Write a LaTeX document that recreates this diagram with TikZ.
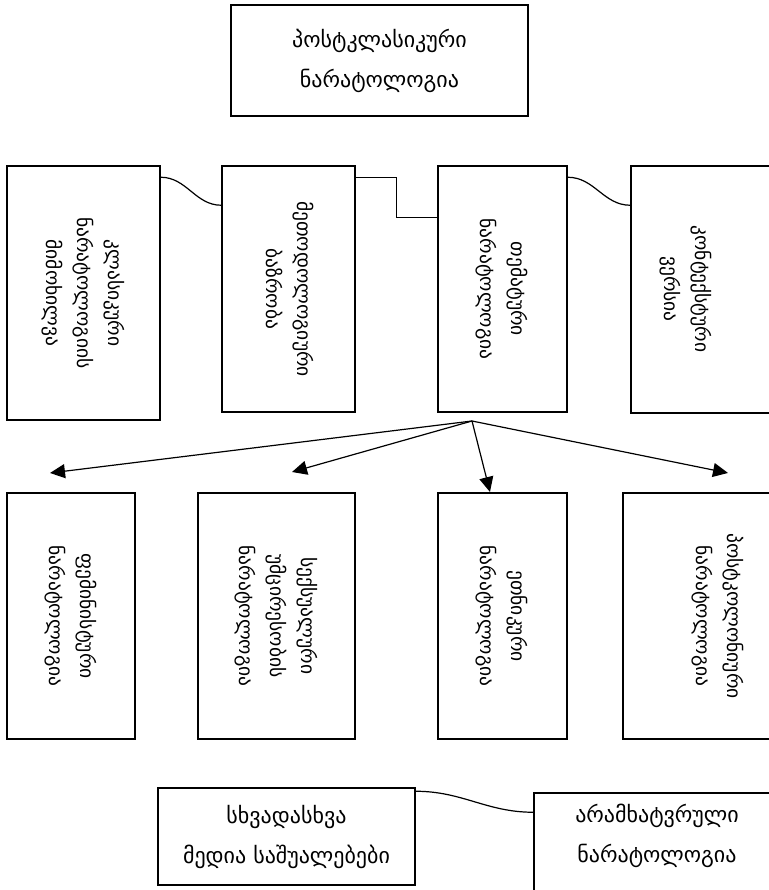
\documentclass[tikz,border=0pt]{standalone}
\usepackage{fontspec}
\setmainfont{DejaVu Sans}
\usepackage{graphicx}
\usetikzlibrary{arrows.meta, calc}

\newcommand{\vtext}[1]{\rotatebox{-90}{\begin{tabular}{@{}c@{}}#1\end{tabular}}}

\begin{document}
\begin{tikzpicture}[x=1pt, y=-1pt,
  vlabel/.style={font=\fontsize{19.5}{31}\selectfont, inner sep=0pt},
  hlabel/.style={font=\fontsize{22}{40}\selectfont, align=center, inner sep=0pt},
  box/.style={draw, line width=1.5pt, vlabel},
  link/.style={line width=1.2pt},
  fanarrow/.style={line width=1.2pt, -{Triangle[length=15pt,width=14pt]}}]
\useasboundingbox (0,0) rectangle (768,890);
% Title box
\node[box, hlabel, minimum width=297pt, minimum height=111pt] (pk) at (379.5,60.5) {პოსტკლასიკური\\ნარატოლოგია};
% Upper row
\node[box, minimum width=153pt, minimum height=254pt] (kl) at (83.5,293) {\vtext{კლასიკური\\ნარატოლოგიის\\მიმოხილვა}};
\node[box, minimum width=133pt, minimum height=246pt] (mt) at (288.5,289) {\vtext{მეთოდოლოგიური\\ბაზრობა}};
\node[box, minimum width=129pt, minimum height=246pt] (tm) at (502.5,289) {\vtext{თემატური\\ნარატოლოგია}};
\node[box, minimum width=179pt, minimum height=247pt] (kv) at (720.5,289.5) {};
\node[vlabel] (kvtext) at (686,289) {\vtext{კონტექსტური\\ვერსია}};
% Links of the upper row
\draw[link] ($(kl.north east)+(0,12)$) to[out=0,in=180] ($(mt.north west)+(0,40)$);
\draw[link] ($(mt.north east)+(0,12)$) -- ++(41,0) |- ($(tm.north west)+(0,52)$);
\draw[link] ($(tm.north east)+(0,12)$) to[out=0,in=180] ($(kv.north west)+(0,40)$);
% Lower row
\node[box, minimum width=128pt, minimum height=246pt] (fn) at (71,616) {\vtext{ფემინისტური\\ნარატოლოგია}};
\node[box, minimum width=157pt, minimum height=246pt] (su) at (276.5,616) {\vtext{სექსუალური\\უმცირესობის\\ნარატოლოგია}};
\node[box, minimum width=129pt, minimum height=246pt] (en) at (502.5,616) {\vtext{ეთნიკური\\ნარატოლოგია}};
\node[box, minimum width=190pt, minimum height=246pt] (pn) at (718,616) {\vtext{პოსტკოლონიური\\ნარატოლოგია}};
% Fan of arrows
\coordinate (fork) at (472,421);
\coordinate (fnend) at (50,473);
\coordinate (suend) at (292,472);
\coordinate (enend) at (490,492);
\coordinate (pnend) at (728,473);
\foreach \e in {fnend, suend, enend, pnend}
  \draw[fanarrow] (fork) -- (\e);
% Bottom pair
\node[box, hlabel, minimum width=257pt, minimum height=97pt] (sm) at (286.5,836.5) {სხვადასხვა\\მედია საშუალებები};
\node[box, minimum width=256pt, minimum height=107pt] (an) at (662,846.5) {};
\node[hlabel] (antext) at (657,836) {არამხატვრული\\ნარატოლოგია};
\draw[link] ($(sm.north east)+(0,4)$) to[out=0,in=180] ($(an.north west)+(0,20)$);
\end{tikzpicture}
\end{document}
